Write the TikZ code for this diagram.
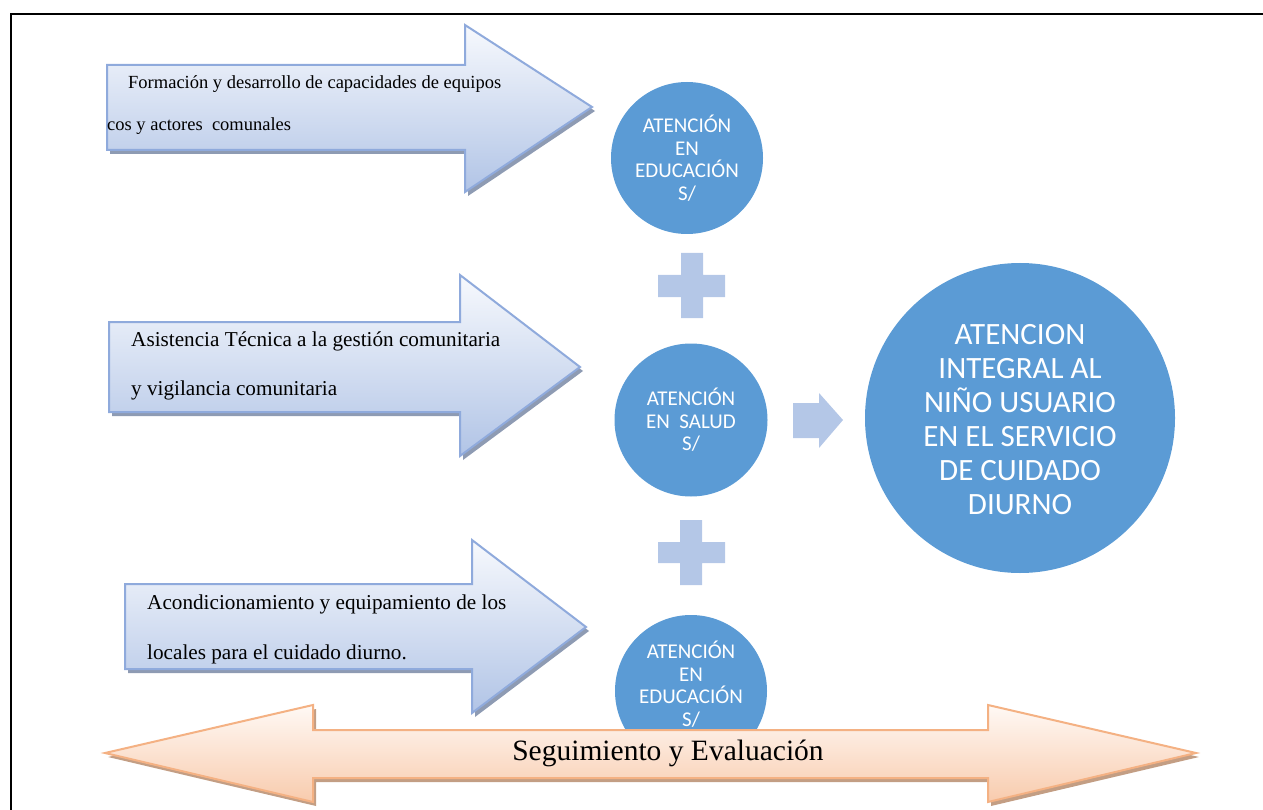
\documentclass[tikz,border=0pt]{standalone}
\usepackage{fontspec}
\setmainfont{Liberation Serif}
\newfontfamily\calibrifont{Carlito}
\definecolor{circblue}{HTML}{5B9BD5}
\definecolor{plusblue}{HTML}{B4C7E7}
\definecolor{arrstroke}{HTML}{8FAADC}
\definecolor{arrtop}{HTML}{F7F9FD}
\definecolor{arrbottom}{HTML}{B1C4E6}
\definecolor{arrshadow}{HTML}{8E9BB3}
\definecolor{orstroke}{HTML}{F4B183}
\definecolor{ortop}{HTML}{FFF9F5}
\definecolor{orbottom}{HTML}{F8CBAD}
\definecolor{orshadow}{HTML}{C39E84}
\tikzset{
  bluearrow/.style={draw=arrstroke, line width=2pt, line join=miter, top color=arrtop, bottom color=arrbottom},
  blueshadow/.style={fill=arrshadow, shift={(3,4)}},
  orangearrow/.style={draw=orstroke, line width=2pt, line join=miter, top color=ortop, bottom color=orbottom},
  orangeshadow/.style={fill=orshadow, shift={(3,4)}},
  circ/.style={circle, fill=circblue, draw=none, inner sep=0pt},
  smalltxt/.style={text=white, align=center, font=\calibrifont\fontsize{21}{22.5}\selectfont, inner sep=0pt},
  bigtxt/.style={text=white, align=center, font=\calibrifont\fontsize{31}{34}\selectfont, inner sep=0pt},
  arrtxt/.style={anchor=base west, inner sep=0pt, font=\fontsize{18.5}{22}\selectfont},
  arrtxtb/.style={anchor=base west, inner sep=0pt, font=\fontsize{21.2}{24}\selectfont},
  plusshape/.style={fill=plusblue, draw=none},
  frameline/.style={draw=black, line width=2.2pt}
}
\newcommand\blockarrow[8]{%
  \fill[blueshadow] (#1,#2) -- (#4,#2) -- (#4,#5) -- (#7,#8) -- (#4,#6) -- (#4,#3) -- (#1,#3) -- cycle;
  \path[bluearrow] (#1,#2) -- (#4,#2) -- (#4,#5) -- (#7,#8) -- (#4,#6) -- (#4,#3) -- (#1,#3) -- cycle;}
\begin{document}
\begin{tikzpicture}[x=1pt,y=-1pt]
\useasboundingbox (0,0) rectangle (1263,810);
% frame
\draw[frameline] (11,810) -- (11,14) -- (1263,14);
% input arrows
\blockarrow{107}{65}{150}{465}{25}{192}{592}{107}
\blockarrow{109}{322}{412}{460}{275}{456}{580}{367}
\blockarrow{125}{584}{669}{472}{540}{713}{586}{627}
\node[arrtxt] (t1a) at (128,89) {Formación y desarrollo de capacidades de equipos};
\node[arrtxt] (t1b) at (107,131) {cos y actores\ \ comunales};
\node[arrtxtb] (t2a) at (131,346) {Asistencia Técnica a la gestión comunitaria};
\node[arrtxtb] (t2b) at (131,395) {y vigilancia comunitaria};
\node[arrtxtb] (t3a) at (147,609) {Acondicionamiento y equipamiento de los};
\node[arrtxtb] (t3b) at (147,659) {locales para el cuidado diurno.};
% circles
\node[circ, minimum size=152pt] (c1) at (687,158) {};
\node[smalltxt] (c1t) at (c1.center) {ATENCIÓN\\EN\\EDUCACIÓN\\S/};
\node[circ, minimum size=153pt] (c2) at (691,420) {};
\node[smalltxt] (c2t) at (c2.center) {ATENCIÓN\\EN\ \ SALUD\\S/};
\node[circ, minimum size=152pt] (c3) at (691,691) {};
\node[smalltxt] (c3t) at (691,684) {ATENCIÓN\\EN\\EDUCACIÓN\\S/};
\node[circ, minimum size=310pt] (big) at (1020,418) {};
\node[bigtxt] (bigt) at (1020,420) {ATENCION\\INTEGRAL AL\\NIÑO USUARIO\\EN EL SERVICIO\\DE CUIDADO\\DIURNO};
% plus signs
\fill[plusshape] (681,253) -- (703,253) -- (703,275) -- (725,275) -- (725,297) -- (703,297) -- (703,318) -- (681,318) -- (681,297) -- (658,297) -- (658,275) -- (681,275) -- cycle;
\fill[plusshape] (680,520) -- (702,520) -- (702,542) -- (725,542) -- (725,563) -- (702,563) -- (702,585) -- (680,585) -- (680,563) -- (658,563) -- (658,542) -- (680,542) -- cycle;
% small arrow
\fill[plusshape] (793,403) -- (819,403) -- (819,393) -- (843,420) -- (819,448) -- (819,438) -- (793,438) -- cycle;
% double arrow
\fill[orangeshadow] (105,753) -- (313,705) -- (313,730) -- (988,730) -- (988,705) -- (1196,753) -- (988,802) -- (988,778) -- (313,778) -- (313,802) -- cycle;
\path[orangearrow] (105,753) -- (313,705) -- (313,730) -- (988,730) -- (988,705) -- (1196,753) -- (988,802) -- (988,778) -- (313,778) -- (313,802) -- cycle;
\node[inner sep=0pt, font=\fontsize{29.5}{34}\selectfont] (seg) at (668,753) {Seguimiento y Evaluación};
\end{tikzpicture}
\end{document}
